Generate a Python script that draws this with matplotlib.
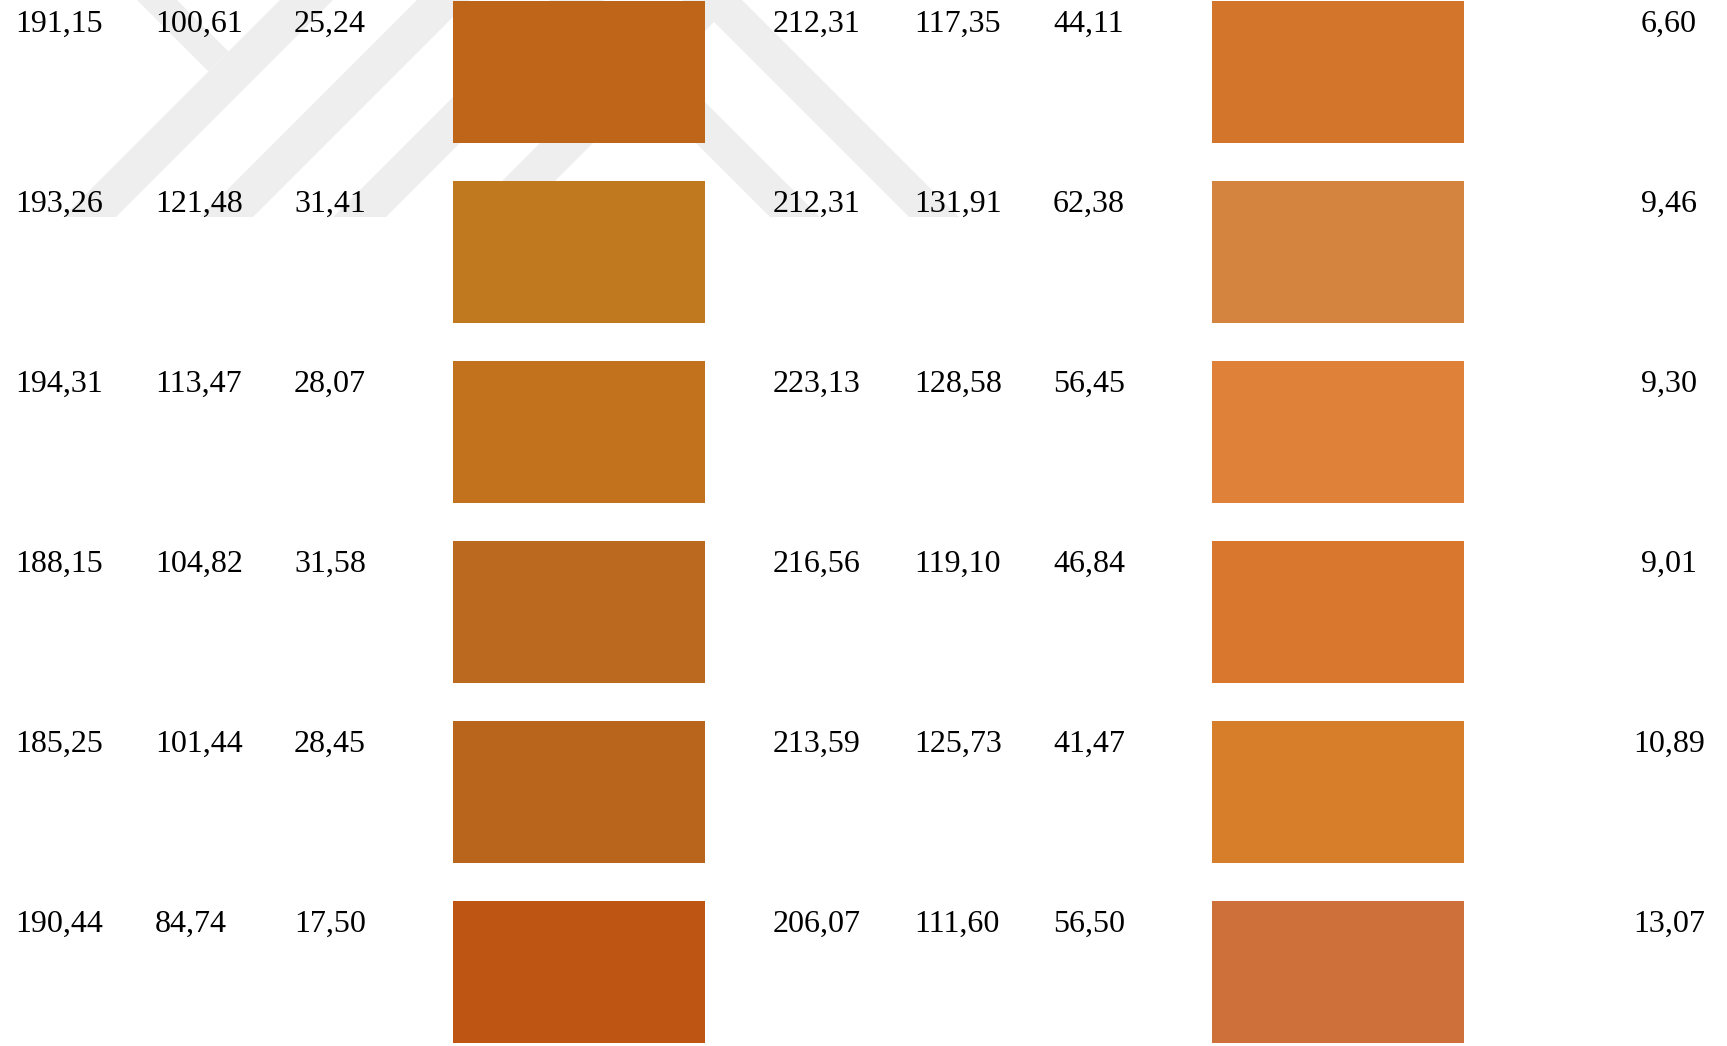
import matplotlib
matplotlib.use('Agg')
import matplotlib.pyplot as plt
from matplotlib.patches import Polygon


# first sample: R, G, B
R1 = [191.15, 193.26, 194.31, 188.15, 185.25, 190.44]
G1 = [100.61, 121.48, 113.47, 104.82, 101.44, 84.74]
B1 = [25.24, 31.41, 28.07, 31.58, 28.45, 17.50]

# second sample: R, G, B
R2 = [212.31, 212.31, 223.13, 216.56, 213.59, 206.07]
G2 = [117.35, 131.91, 128.58, 119.10, 125.73, 111.60]
B2 = [44.11, 62.38, 56.45, 46.84, 41.47, 56.50]

# colour difference
DE = [6.60, 9.46, 9.30, 9.01, 10.89, 13.07]


def fmt(v):
    return ("%.2f" % v).replace('.', ',')


def band(k1, k2, down_right, y0=0, y1=217):
    # light grey stripe of the watermark, between two 45 degree lines
    if down_right:
        pts = [(k1 + y0, y0), (k2 + y0, y0), (k2 + y1, y1), (k1 + y1, y1)]
    else:
        pts = [(k1 - y0, y0), (k2 - y0, y0), (k2 - y1, y1), (k1 - y1, y1)]
    return Polygon(pts, closed=True, facecolor='#eeeeee', edgecolor='none', zorder=0)


def plot():

    W, H = 1727, 1046
    fig = plt.figure(figsize=(W / 100, H / 100), dpi=100)
    ax = fig.add_axes([0, 0, 1, 1])
    ax.set_xlim(0, W)
    ax.set_ylim(H, 0)
    ax.axis('off')

    # watermark in the background
    for k in [280, 417, 550, 683]:
        ax.add_patch(band(k, k + 53, False))
    for k in [553, 692]:
        ax.add_patch(band(k, k + 50, True))
    ax.add_patch(Polygon([(137, 0), (177, 0), (228.5, 51.5), (208.5, 71.5)],
                         closed=True, facecolor='#eeeeee', edgecolor='none', zorder=0))

    pitch = 180
    sw_h = 142
    sw_w = 252
    font = dict(family='Liberation Serif', fontsize=23, color='black', va='baseline')

    n = len(R1)
    tops = [1 + pitch * i for i in range(n)]
    col1 = [(R1[i] / 255, G1[i] / 255, B1[i] / 255) for i in range(n)]
    col2 = [(R2[i] / 255, G2[i] / 255, B2[i] / 255) for i in range(n)]

    ax.bar([579] * n, [sw_h] * n, bottom=tops, width=sw_w, color=col1, zorder=2)
    ax.bar([1338] * n, [sw_h] * n, bottom=tops, width=sw_w, color=col2, zorder=2)

    for i in range(n):
        y = tops[i] + 30.5
        ax.text(15, y, fmt(R1[i]), ha='left', **font)
        ax.text(155, y, fmt(G1[i]), ha='left', **font)
        ax.text(294, y, fmt(B1[i]), ha='left', **font)
        ax.text(773, y, fmt(R2[i]), ha='left', **font)
        ax.text(914, y, fmt(G2[i]), ha='left', **font)
        ax.text(1053, y, fmt(B2[i]), ha='left', **font)
        ax.text(1669, y, fmt(DE[i]), ha='center', **font)

    fig.savefig('out.png', dpi=100)


def main():
    plot()


if __name__ == "__main__":
    main()
